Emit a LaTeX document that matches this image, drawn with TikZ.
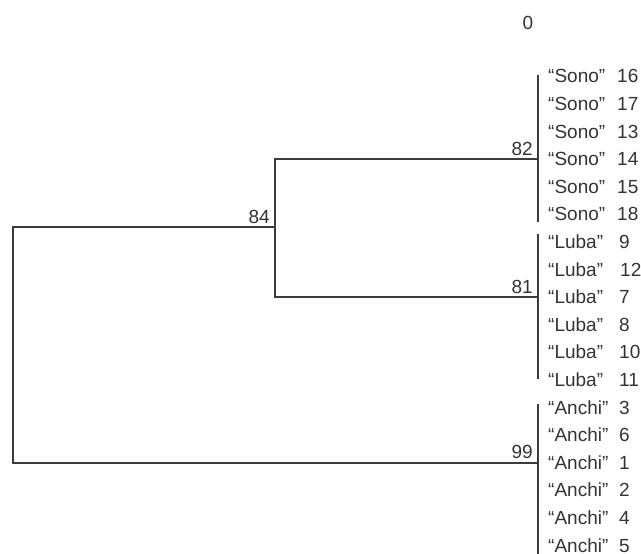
\documentclass[tikz,border=0pt]{standalone}
\usepackage{fontspec}
\setmainfont{Liberation Sans}
\definecolor{ink}{HTML}{333333}
\definecolor{branch}{HTML}{3C3C3C}
\begin{document}
\begin{tikzpicture}[x=1pt,y=-1pt,
  lbl/.style={anchor=base west,inner sep=0pt,text=ink,font=\fontsize{19}{19}\selectfont},
  num/.style={anchor=base west,inner sep=0pt,text=ink,font=\fontsize{19}{19}\selectfont},
  boot/.style={anchor=base east,inner sep=0pt,text=ink,font=\fontsize{19}{19}\selectfont},
  edge/.style={draw=branch,line width=1.5pt,line cap=rect}]
\useasboundingbox (0,0) rectangle (641,554);
% scale label
\node[anchor=base,inner sep=0pt,text=ink,font=\fontsize{19}{19}\selectfont] (zero) at (528,30) {0};
% leaf labels
\foreach \i/\n/\k/\nx in {0/Sono/16/617,1/Sono/17/617,2/Sono/13/617,3/Sono/14/617,4/Sono/15/617,5/Sono/18/617,
  6/Luba/9/619,7/Luba/12/620,8/Luba/7/619,9/Luba/8/619,10/Luba/10/619,11/Luba/11/619,
  12/Anchi/3/619,13/Anchi/6/619,14/Anchi/1/619,15/Anchi/2/619,16/Anchi/4/619,17/Anchi/5/619}{
  \node[lbl] (name\i) at (548,{76+27.6*\i+6.9}) {“\n”};
  \node[num] (num\i) at (\nx,{76+27.6*\i+6.9}) {\k};
}
% cluster coordinates
\coordinate (sonoT) at (538,76);
\coordinate (sonoB) at (538,221);
\coordinate (sonoM) at (538,159);
\coordinate (lubaT) at (538,235);
\coordinate (lubaB) at (538,378);
\coordinate (lubaM) at (538,297);
\coordinate (anchiT) at (538,405);
\coordinate (anchiB) at (538,554);
\coordinate (anchiM) at (538,463);
\coordinate (n82) at (275,159);
\coordinate (n81) at (275,297);
\coordinate (n84) at (275,227);
\coordinate (r84) at (13,227);
\coordinate (r99) at (13,463);
% branches
\draw[edge] (sonoT) -- (sonoB);
\draw[edge] (lubaT) -- (lubaB);
\draw[edge] (anchiT) -- (anchiB);
\draw[edge] (sonoM) -- (n82) -- (n81) -- (lubaM);
\draw[edge] (n84) -- (r84) -- (r99) -- (anchiM);
% bootstrap values
\node[boot] (b82) at (533,155) {82};
\node[boot] (b81) at (533,293) {81};
\node[boot] (b84) at (270,223) {84};
\node[boot] (b99) at (533,458) {99};
\end{tikzpicture}
\end{document}
